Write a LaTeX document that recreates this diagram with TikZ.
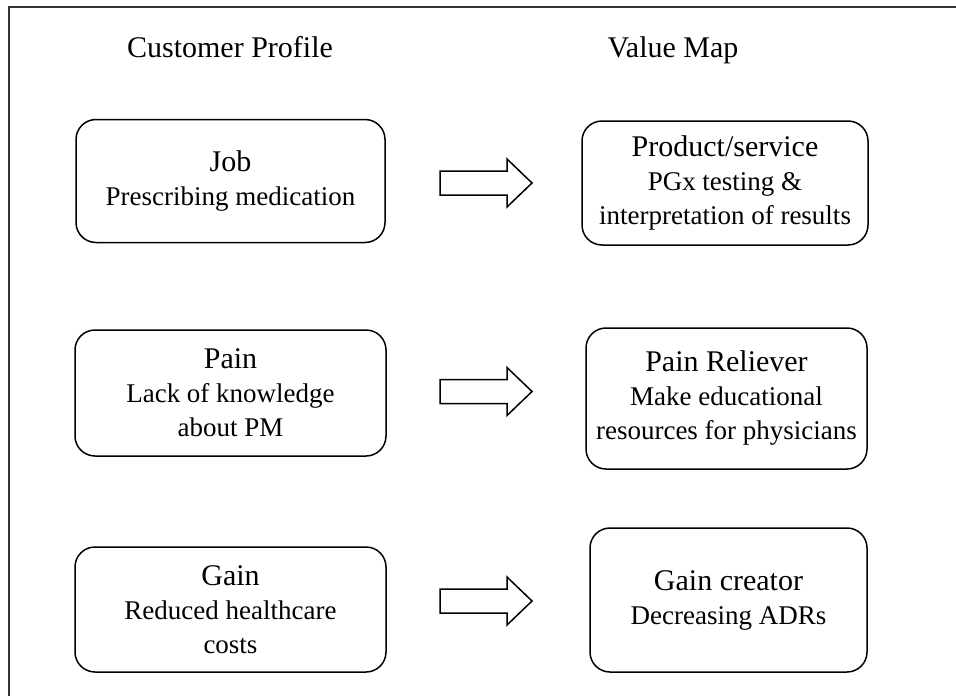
\documentclass[tikz,border=0pt]{standalone}
\usepackage{fontspec}
\setmainfont{Liberation Serif}
\usetikzlibrary{calc}
\tikzset{
  frameline/.style={line width=1.4pt, draw=black!80},
  card/.style={draw, line width=1.5pt, rounded corners=20pt, align=center,
    inner sep=0pt, font=\fontsize{27}{34}\selectfont},
  heading/.style={font=\fontsize{30}{34}\selectfont, inner sep=0pt, anchor=base},
  blockarrow/.style={draw, line width=1.5pt, line join=miter}
}
\newcommand{\ttl}[1]{{\fontsize{30}{34}\selectfont #1}}
\begin{document}
\begin{tikzpicture}[x=1pt,y=-1pt]
\useasboundingbox (0,0) rectangle (956,696);
\draw[frameline] (9,696) -- (9,7) -- (956,7);

\node[heading] (cp) at (230,57) {Customer Profile};
\node[heading] (vm) at (673,57) {Value Map};

\node[card, minimum width=309pt, minimum height=123pt] (job) at (230.5,181)
  {\ttl{Job}\\Prescribing medication};
\node[card, minimum width=311pt, minimum height=126pt] (pain) at (230.5,393)
  {\ttl{Pain}\\Lack of knowledge\\about PM};
\node[card, minimum width=311pt, minimum height=125pt] (gain) at (230.5,609.5)
  {\ttl{Gain}\\Reduced healthcare\\costs};

\node[card, minimum width=286pt, minimum height=124pt] (prod) at (725,183)
  {\ttl{Product/service}\\PGx testing \&\\interpretation of results};
\node[card, minimum width=281pt, minimum height=141pt] (relief) at (726.5,398.5)
  {\ttl{Pain Reliever}\\Make educational\\resources for physicians};
\node[card, minimum width=277pt, minimum height=144pt] (creator) at (728.5,600)
  {\ttl{Gain creator}\\Decreasing ADRs};

\coordinate (a1) at (486,183);
\coordinate (a2) at (486,391.5);
\coordinate (a3) at (486,601);
\foreach \c in {a1,a2,a3}{
  \draw[blockarrow] ($(\c)+(-46,-12)$) -- ($(\c)+(21,-12)$) -- ($(\c)+(21,-24)$)
    -- ($(\c)+(46,0)$) -- ($(\c)+(21,24)$) -- ($(\c)+(21,12)$)
    -- ($(\c)+(-46,12)$) -- cycle;
}
\end{tikzpicture}
\end{document}
